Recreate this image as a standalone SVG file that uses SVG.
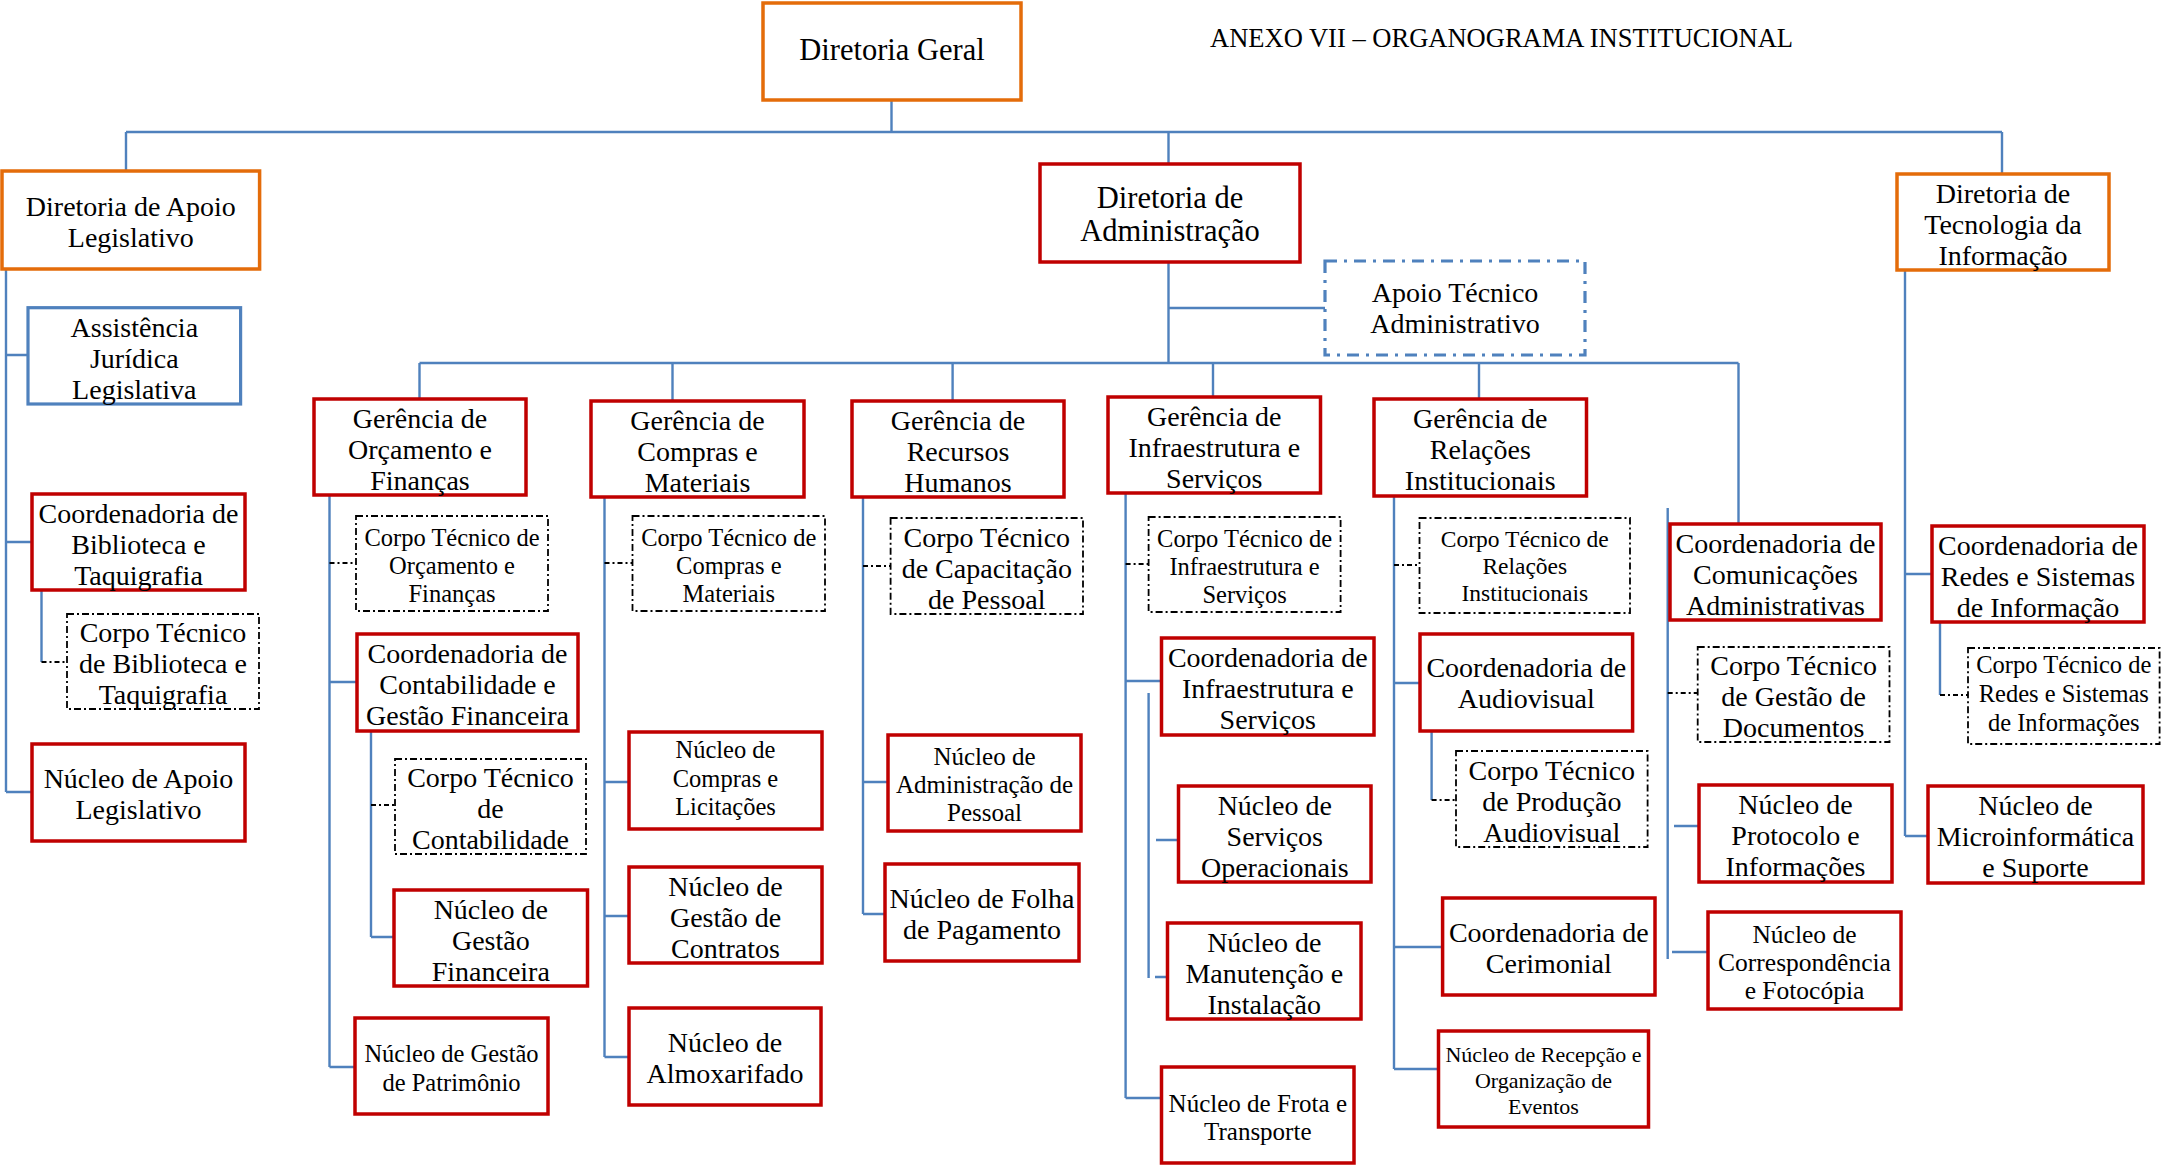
<svg xmlns="http://www.w3.org/2000/svg" width="2163" height="1165" viewBox="0 0 2163 1165">
<style>
.r{fill:#fff;stroke:#C00000;stroke-width:3.5}
.o{fill:#fff;stroke:#E46C0A;stroke-width:3.5}
.b{fill:#fff;stroke:#4F81BD;stroke-width:3.2}
.d{fill:#fff;stroke:#000;stroke-width:1.8;stroke-dasharray:7 3 2 3}
.bd{fill:#fff;stroke:#4F81BD;stroke-width:3.2;stroke-dasharray:12 7 3 7}
.c{stroke:#4F81BD;stroke-width:2.4;fill:none}
.cd{stroke:#000;stroke-width:1.8;stroke-dasharray:5 3 2 3;fill:none}
text{font-family:"Liberation Serif","Times New Roman",serif;fill:#000;text-anchor:middle;font-size:28px}
.s{font-size:24.5px}
.xs{font-size:22px}
.l{font-size:30.5px}
</style>
<text x="1501.5" y="47" style="font-size:27px" textLength="583" lengthAdjust="spacingAndGlyphs">ANEXO VII – ORGANOGRAMA INSTITUCIONAL</text>
<g id="connectors">
<path class="c" d="M891.5 100V132M126 132H2002M126 132V171M1168.5 132V164M2002 132V174"/>
<path class="c" d="M6 269V792M6 355H28M6 542H32M6 792H32M41.5 590V662"/>
<path class="cd" d="M41.5 662H67"/>
<path class="c" d="M1168.5 262V363M1168.5 308H1325M419.5 363H1738.5M419.5 363V399M672.5 363V401M952.6 363V401M1213 363V397M1479 363V399M1738.5 363V524"/>
<path class="c" d="M329.5 495V1067M329.5 682H357M329.5 1067H355M371 731V937M371 937H394"/>
<path class="cd" d="M329.5 563H356M371 805H395"/>
<path class="c" d="M604.5 497V1057M604.5 782H629M604.5 916H629M604.5 1057H629"/>
<path class="cd" d="M604.5 563H632.5"/>
<path class="c" d="M863 497V914M863 782H888M863 914H885"/>
<path class="cd" d="M863 566H890.6"/>
<path class="c" d="M1125.6 493V1098M1125.6 681H1161.5M1125.6 1098H1161.5M1148.6 693V978M1156 840H1178.5M1155 977H1167.5"/>
<path class="cd" d="M1125.6 564H1148.6"/>
<path class="c" d="M1394 496V1069M1394 683H1420M1394 947H1442.6M1394 1069H1438.5M1431.6 731V800"/>
<path class="cd" d="M1394 565H1419.5M1431.6 800H1456"/>
<path class="c" d="M1667.7 508V959M1674 826H1699M1672 952H1708"/>
<path class="cd" d="M1667.7 693H1697.7"/>
<path class="c" d="M1905 270V836M1905 574H1932M1905 836H1928M1940 622V695"/>
<path class="cd" d="M1940 695H1968"/>
</g>
<g id="diretoria-geral"><rect class="o" x="763" y="3" width="258" height="97"/><text class="l" x="892" y="60">Diretoria Geral</text></g>
<g id="dir-apoio-legislativo"><rect class="o" x="2" y="171" width="257.6" height="98"/><text x="130.8" y="215.5">Diretoria de Apoio</text><text x="130.8" y="246.5">Legislativo</text></g>
<g id="dir-administracao"><rect class="r" x="1040" y="164" width="260" height="98"/><text class="l" x="1170" y="208">Diretoria de</text><text class="l" x="1170" y="241">Administração</text></g>
<g id="dir-ti"><rect class="o" x="1897" y="174" width="212" height="96"/><text x="2003" y="202.8">Diretoria de</text><text x="2003" y="233.8">Tecnologia da</text><text x="2003" y="264.8">Informação</text></g>
<g id="apoio-tecnico"><rect class="bd" x="1325" y="261" width="260" height="94"/><text x="1455" y="302">Apoio Técnico</text><text x="1455" y="333">Administrativo</text></g>
<g id="assistencia-juridica"><rect class="b" x="28" y="307.7" width="212.6" height="96.3"/><text x="134.3" y="336.8">Assistência</text><text x="134.3" y="367.8">Jurídica</text><text x="134.3" y="398.8">Legislativa</text></g>
<g id="coord-biblioteca"><rect class="r" x="32" y="494" width="213" height="96"/><text x="138.5" y="522.8">Coordenadoria de</text><text x="138.5" y="553.8">Biblioteca e</text><text x="138.5" y="584.8">Taquigrafia</text></g>
<g id="ct-biblioteca"><rect class="d" x="67" y="614" width="192" height="95"/><text x="163" y="642.3">Corpo Técnico</text><text x="163" y="673.3">de Biblioteca e</text><text x="163" y="704.3">Taquigrafia</text></g>
<g id="nucleo-apoio-legislativo"><rect class="r" x="32" y="744" width="213" height="97"/><text x="138.5" y="787.5">Núcleo de Apoio</text><text x="138.5" y="819">Legislativo</text></g>
<g id="ger-orcamento"><rect class="r" x="314" y="399" width="212" height="96"/><text x="420" y="427.8">Gerência de</text><text x="420" y="458.8">Orçamento e</text><text x="420" y="489.8">Finanças</text></g>
<g id="ct-orcamento"><rect class="d" x="356" y="516" width="192" height="95"/><text class="s" x="452" y="546">Corpo Técnico de</text><text class="s" x="452" y="574">Orçamento e</text><text class="s" x="452" y="602">Finanças</text></g>
<g id="coord-contabilidade"><rect class="r" x="357" y="634" width="221" height="97"/><text x="467.5" y="663.3">Coordenadoria de</text><text x="467.5" y="694.3">Contabilidade e</text><text x="467.5" y="725.3">Gestão Financeira</text></g>
<g id="ct-contabilidade"><rect class="d" x="395" y="759" width="191" height="95"/><text x="490.5" y="787.3">Corpo Técnico</text><text x="490.5" y="818.3">de</text><text x="490.5" y="849.3">Contabilidade</text></g>
<g id="nucleo-gestao-financeira"><rect class="r" x="394" y="890" width="193.5" height="96"/><text x="490.8" y="918.8">Núcleo de</text><text x="490.8" y="949.8">Gestão</text><text x="490.8" y="980.8">Financeira</text></g>
<g id="nucleo-patrimonio"><rect class="r" x="355" y="1018" width="193" height="96"/><text class="s" x="451.5" y="1061.5">Núcleo de Gestão</text><text class="s" x="451.5" y="1090.5">de Patrimônio</text></g>
<g id="ger-compras"><rect class="r" x="591" y="401" width="213" height="96"/><text x="697.5" y="429.8">Gerência de</text><text x="697.5" y="460.8">Compras e</text><text x="697.5" y="491.8">Materiais</text></g>
<g id="ct-compras"><rect class="d" x="632.5" y="516" width="192.5" height="95"/><text class="s" x="728.8" y="546">Corpo Técnico de</text><text class="s" x="728.8" y="574">Compras e</text><text class="s" x="728.8" y="602">Materiais</text></g>
<g id="nucleo-compras-licitacoes"><rect class="r" x="629" y="732" width="193" height="97"/><text class="s" x="725.5" y="758">Núcleo de</text><text class="s" x="725.5" y="786.5">Compras e</text><text class="s" x="725.5" y="815">Licitações</text></g>
<g id="nucleo-contratos"><rect class="r" x="629" y="867" width="193" height="96"/><text x="725.5" y="895.8">Núcleo de</text><text x="725.5" y="926.8">Gestão de</text><text x="725.5" y="957.8">Contratos</text></g>
<g id="nucleo-almoxarifado"><rect class="r" x="629" y="1008" width="192" height="97"/><text x="725" y="1052">Núcleo de</text><text x="725" y="1083">Almoxarifado</text></g>
<g id="ger-rh"><rect class="r" x="852" y="401" width="212" height="96"/><text x="958" y="429.8">Gerência de</text><text x="958" y="460.8">Recursos</text><text x="958" y="491.8">Humanos</text></g>
<g id="ct-capacitacao"><rect class="d" x="890.6" y="518" width="192.4" height="96"/><text x="986.8" y="546.8">Corpo Técnico</text><text x="986.8" y="577.8">de Capacitação</text><text x="986.8" y="608.8">de Pessoal</text></g>
<g id="nucleo-adm-pessoal"><rect class="r" x="888" y="735" width="193" height="96"/><text style="font-size:25px" x="984.5" y="764.5">Núcleo de</text><text style="font-size:25px" x="984.5" y="792.5">Administração de</text><text style="font-size:25px" x="984.5" y="820.5">Pessoal</text></g>
<g id="nucleo-folha"><rect class="r" x="885" y="864" width="194" height="97"/><text x="982" y="907.8">Núcleo de Folha</text><text x="982" y="938.8">de Pagamento</text></g>
<g id="ger-infra"><rect class="r" x="1108" y="397" width="212.5" height="96"/><text x="1214.3" y="425.8">Gerência de</text><text x="1214.3" y="456.8">Infraestrutura e</text><text x="1214.3" y="487.8">Serviços</text></g>
<g id="ct-infra"><rect class="d" x="1148.6" y="517" width="192" height="95"/><text class="s" x="1244.6" y="546.8">Corpo Técnico de</text><text class="s" x="1244.6" y="574.8">Infraestrutura e</text><text class="s" x="1244.6" y="602.8">Serviços</text></g>
<g id="coord-infra"><rect class="r" x="1161.5" y="638" width="212.5" height="97"/><text x="1267.8" y="667.3">Coordenadoria de</text><text x="1267.8" y="698.3">Infraestrutura e</text><text x="1267.8" y="729.3">Serviços</text></g>
<g id="nucleo-servicos"><rect class="r" x="1178.5" y="786" width="192.5" height="96"/><text x="1274.8" y="814.8">Núcleo de</text><text x="1274.8" y="845.8">Serviços</text><text x="1274.8" y="876.8">Operacionais</text></g>
<g id="nucleo-manutencao"><rect class="r" x="1167.5" y="923" width="193.5" height="96"/><text x="1264.3" y="951.8">Núcleo de</text><text x="1264.3" y="982.8">Manutenção e</text><text x="1264.3" y="1013.8">Instalação</text></g>
<g id="nucleo-frota"><rect class="r" x="1161.5" y="1067" width="192.5" height="96"/><text style="font-size:25px" x="1257.8" y="1111.5">Núcleo de Frota e</text><text style="font-size:25px" x="1257.8" y="1139.5">Transporte</text></g>
<g id="ger-relacoes"><rect class="r" x="1374" y="399" width="212.5" height="97"/><text x="1480.3" y="428.3">Gerência de</text><text x="1480.3" y="459.3">Relações</text><text x="1480.3" y="490.3">Institucionais</text></g>
<g id="ct-relacoes"><rect class="d" x="1419.5" y="518" width="210.5" height="95"/><text style="font-size:23.5px" x="1524.8" y="547">Corpo Técnico de</text><text style="font-size:23.5px" x="1524.8" y="574">Relações</text><text style="font-size:23.5px" x="1524.8" y="601">Institucionais</text></g>
<g id="coord-audiovisual"><rect class="r" x="1420" y="634" width="212.6" height="97"/><text x="1526.3" y="677">Coordenadoria de</text><text x="1526.3" y="708">Audiovisual</text></g>
<g id="ct-producao-audiovisual"><rect class="d" x="1456" y="751" width="191.6" height="96"/><text x="1551.8" y="779.8">Corpo Técnico</text><text x="1551.8" y="810.8">de Produção</text><text x="1551.8" y="841.8">Audiovisual</text></g>
<g id="coord-cerimonial"><rect class="r" x="1442.6" y="898" width="212.4" height="97"/><text x="1548.8" y="942">Coordenadoria de</text><text x="1548.8" y="973">Cerimonial</text></g>
<g id="nucleo-recepcao"><rect class="r" x="1438.5" y="1031" width="210" height="96"/><text class="xs" x="1543.5" y="1062">Núcleo de Recepção e</text><text class="xs" x="1543.5" y="1088">Organização de</text><text class="xs" x="1543.5" y="1114">Eventos</text></g>
<g id="coord-comunicacoes"><rect class="r" x="1670" y="524" width="211" height="96"/><text x="1775.5" y="552.8">Coordenadoria de</text><text x="1775.5" y="583.8">Comunicações</text><text x="1775.5" y="614.8">Administrativas</text></g>
<g id="ct-gestao-documentos"><rect class="d" x="1697.7" y="647" width="191.8" height="95"/><text x="1793.6" y="675.3">Corpo Técnico</text><text x="1793.6" y="706.3">de Gestão de</text><text x="1793.6" y="737.3">Documentos</text></g>
<g id="nucleo-protocolo"><rect class="r" x="1699" y="785" width="193" height="97"/><text x="1795.5" y="814.3">Núcleo de</text><text x="1795.5" y="845.3">Protocolo e</text><text x="1795.5" y="876.3">Informações</text></g>
<g id="nucleo-correspondencia"><rect class="r" x="1708" y="912" width="193" height="97"/><text style="font-size:25.5px" x="1804.5" y="943.2">Núcleo de</text><text style="font-size:25.5px" x="1804.5" y="971.2">Correspondência</text><text style="font-size:25.5px" x="1804.5" y="999.2">e Fotocópia</text></g>
<g id="coord-redes"><rect class="r" x="1932" y="526" width="212" height="96"/><text x="2038" y="554.8">Coordenadoria de</text><text x="2038" y="585.8">Redes e Sistemas</text><text x="2038" y="616.8">de Informação</text></g>
<g id="ct-redes"><rect class="d" x="1968" y="648" width="191.6" height="96"/><text class="s" x="2063.8" y="672.5">Corpo Técnico de</text><text class="s" x="2063.8" y="701.5">Redes e Sistemas</text><text class="s" x="2063.8" y="730.5">de Informações</text></g>
<g id="nucleo-microinformatica"><rect class="r" x="1928" y="786" width="215" height="97"/><text x="2035.5" y="815.3">Núcleo de</text><text x="2035.5" y="846.3">Microinformática</text><text x="2035.5" y="877.3">e Suporte</text></g>
</svg>
